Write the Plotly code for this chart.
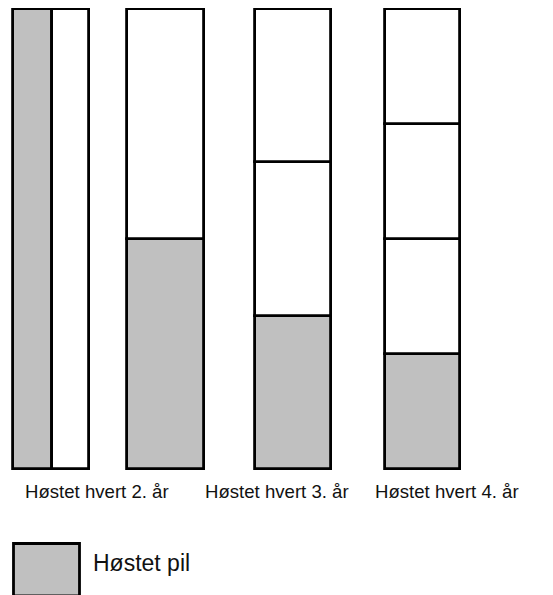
import plotly.graph_objects as go

# ---- data ----
scheme_labels = ["Høstet hvert 2. år", "Høstet hvert 3. år", "Høstet hvert 4. år"]
legend_label = "Høstet pil"
# share of the stand harvested (grey) per column
harvested = [1.0, 0.5, 1/3, 1/4]
# standing (white) segments per column
standing = [[1.0], [0.5], [1/3, 1/3], [1/4, 1/4, 1/4]]

# ---- layout constants (screen pixels) ----
W, H = 553, 595
OFF = 8  # page body margin
TOP_PX, BOT_PX = 9, 469
UNIT = BOT_PX - TOP_PX

def py(s):
    return (BOT_PX - s) / UNIT

ymax = py(OFF)
ymin = py(OFF + H)

# column geometry: (left, right) in x units == screen pixels
grey_cols = [(13, 51.5), (127, 203.5), (255, 331), (385, 459.5)]
white_cols = [(51.5, 89), (127, 203.5), (255, 331), (385, 459.5)]
label_x = [23, 203, 373]
label_px_y = 491

GREY = "#C0C0C0"
LW = 2.8
FONT = "Liberation Sans, Arial"

fig = go.Figure()
for i, h in enumerate(harvested):
    l, r = grey_cols[i]
    fig.add_trace(go.Bar(x=[(l + r) / 2], y=[h], base=[0], width=[r - l],
                         marker=dict(color=GREY, line=dict(color="black", width=LW)),
                         showlegend=False, hoverinfo="skip"))
for i, segs in enumerate(standing):
    l, r = white_cols[i]
    base = 0 if i == 0 else harvested[i]
    for s in segs:
        fig.add_trace(go.Bar(x=[(l + r) / 2], y=[s], base=[base], width=[r - l],
                             marker=dict(color="white", line=dict(color="black", width=LW)),
                             showlegend=False, hoverinfo="skip"))
        base += s

annotations = []
for t, x in zip(scheme_labels, label_x):
    annotations.append(dict(x=x, y=py(label_px_y), xref="x", yref="y", text=t,
                            showarrow=False, xanchor="left", yanchor="middle",
                            font=dict(family=FONT, size=18.6, color="#111")))
annotations.append(dict(x=91, y=py(563), xref="x", yref="y", text=legend_label,
                        showarrow=False, xanchor="left", yanchor="middle",
                        font=dict(family=FONT, size=23, color="#111")))

shapes = [dict(type="rect", xref="x", yref="y", x0=13.5, x1=79.5, y0=py(543.5), y1=py(596),
               fillcolor=GREY, line=dict(color="black", width=LW))]

fig.update_layout(
    width=W, height=H, autosize=False,
    margin=dict(l=0, r=0, t=0, b=0),
    paper_bgcolor="white", plot_bgcolor="white",
    barmode="overlay", bargap=0,
    xaxis=dict(range=[OFF, W + OFF], visible=False, fixedrange=True),
    yaxis=dict(range=[ymin, ymax], visible=False, fixedrange=True),
    annotations=annotations, shapes=shapes,
    showlegend=False,
)
fig.write_html("out.html")
